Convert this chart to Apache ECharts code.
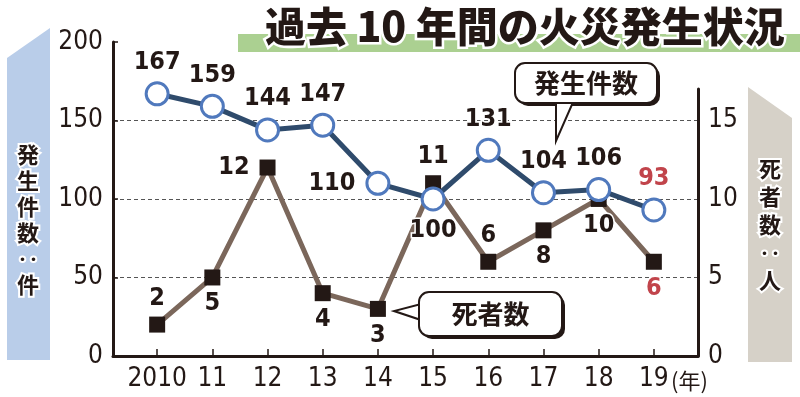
<!DOCTYPE html>
<html>
<head>
<meta charset="utf-8">
<style>
  html, body { margin: 0; padding: 0; background: #fff; }
  #chart { width: 800px; height: 397px; }
</style>
<script src="https://cdn.jsdelivr.net/npm/echarts@6/dist/echarts.min.js"></script>
</head>
<body>
<div id="chart"></div>
<script>
// 年
const years = [2010, 2011, 2012, 2013, 2014, 2015, 2016, 2017, 2018, 2019]
const yearLabels = ['2010', '11', '12', '13', '14', '15', '16', '17', '18', '19']
// 発生件数（件）
const fires = [167, 159, 144, 147, 110, 100, 131, 104, 106, 93]
// 死者数（人）
const deaths = [2, 5, 12, 4, 3, 11, 6, 8, 10, 6]

// ラベル位置
const firesLabelPos = ['top', 'top', 'top', 'top', 'left', 'bottom', 'top', 'top', 'top', 'top']
const deathsLabelPos = ['top', 'bottom', 'left', 'bottom', 'bottom', 'top', 'top', 'bottom', 'bottom', 'bottom']

const INK = '#231815'
const RED = '#c1444b'
const numFont = '"DejaVu Sans", sans-serif'
const jpFont = '"Noto Sans CJK JP", sans-serif'

const chart = echarts.init(document.getElementById('chart'))

function labelStyle(pos, last) {
  return {
    show: true,
    position: pos,
    distance: pos === 'left' ? 10 : 6,
    color: last ? RED : INK,
    fontFamily: numFont,
    fontWeight: 'bold condensed',
    fontSize: 25,
    textBorderColor: '#fff',
    textBorderWidth: 3
  }
}

const fireData = fires.map((v, i) => ({
  value: [years[i], v],
  label: labelStyle(firesLabelPos[i], i === fires.length - 1)
}))
const deathData = deaths.map((v, i) => ({
  value: [years[i], v],
  label: labelStyle(deathsLabelPos[i], i === deaths.length - 1)
}))

// 吹き出し
function bubble(x, y, w, h, text, pointer) {
  return [
    { type: 'rect', shape: { x: x + 3, y: y + 3, width: w, height: h, r: 10 }, style: { fill: INK }, z: 100 },
    { type: 'polygon', shape: { points: pointer }, style: { fill: '#fff', stroke: INK, lineWidth: 2 }, z: 101 },
    { type: 'rect', shape: { x: x, y: y, width: w, height: h, r: 10 }, style: { fill: '#fff', stroke: INK, lineWidth: 2 }, z: 102 },
    {
      type: 'text', x: x + w / 2, y: y + h / 2, z: 103,
      style: { text: text, fill: INK, font: 'bold 26px ' + jpFont, align: 'center', verticalAlign: 'middle' }
    }
  ]
}

chart.setOption({
  animation: false,
  grid: [
    { left: 113, right: 102, top: 42, bottom: 41 },
    { left: 113, right: 102, top: 89, bottom: 41 }
  ],
  xAxis: [
    {
      type: 'value',
      gridIndex: 0,
      min: 2009.2,
      max: 2019.8,
      axisLine: { lineStyle: { color: INK, width: 3 } },
      axisTick: { show: true, inside: true, length: 7, lineStyle: { color: INK, width: 1.5 }, customValues: years },
      axisLabel: {
        customValues: years,
        margin: 10,
        color: INK,
        fontFamily: numFont,
        fontWeight: 'condensed',
        fontSize: 26,
        formatter: v => yearLabels[years.indexOf(Math.round(v))]
      },
      splitLine: { show: false }
    },
    {
      type: 'value',
      gridIndex: 1,
      min: 2009.2,
      max: 2019.8,
      show: false
    }
  ],
  yAxis: [
    {
      type: 'value',
      gridIndex: 0,
      min: 0,
      max: 200,
      interval: 50,
      axisLine: { show: true, lineStyle: { color: INK, width: 3 } },
      axisTick: { show: true, inside: true, length: 5, lineStyle: { color: INK, width: 1.5 } },
      axisLabel: { margin: 10, color: INK, fontFamily: numFont, fontWeight: 'condensed', fontSize: 26 },
      splitLine: {
        show: true,
        showMaxLine: false,
        showMinLine: false,
        lineStyle: { color: '#555', width: 1, type: [4, 3] }
      }
    },
    {
      type: 'value',
      gridIndex: 1,
      position: 'right',
      min: 0,
      max: 17,
      interval: 5,
      axisLine: { show: true, lineStyle: { color: INK, width: 3 } },
      axisTick: { show: false },
      axisLabel: { margin: 10, color: INK, fontFamily: numFont, fontWeight: 'condensed', fontSize: 26, showMaxLabel: false },
      splitLine: { show: false }
    }
  ],
  series: [
    {
      name: '死者数',
      type: 'line',
      xAxisIndex: 1,
      yAxisIndex: 1,
      data: deathData,
      symbol: 'rect',
      symbolSize: 16,
      lineStyle: { color: '#7b675b', width: 5 },
      itemStyle: { color: INK, borderWidth: 0 },
      z: 3
    },
    {
      name: '発生件数',
      type: 'line',
      xAxisIndex: 0,
      yAxisIndex: 0,
      data: fireData,
      symbol: 'circle',
      symbolSize: 22,
      lineStyle: { color: '#2f4b6c', width: 5 },
      itemStyle: { color: '#fff', borderColor: '#5079bd', borderWidth: 3 },
      z: 4
    }
  ],
  graphic: [
    // タイトル
    { type: 'rect', shape: { x: 238, y: 34, width: 562, height: 18 }, style: { fill: '#abd091' }, z: 50 },
    {
      type: 'text', x: 265, y: 26, z: 51,
      style: {
        text: '過去 10 年間の火災発生状況',
        fill: INK,
        font: '900 41px ' + jpFont,
        verticalAlign: 'middle',
        stroke: '#fff',
        lineWidth: 5
      }
    },
    // 左軸タイトル
    { type: 'polygon', shape: { points: [[7, 58], [50, 28], [50, 360], [7, 360]] }, style: { fill: '#b9cde9' }, z: 50 },
    {
      type: 'text', x: 28, y: 220, z: 51,
      style: {
        text: '発\n生\n件\n数\n‥\n件',
        fill: INK,
        font: 'bold 22px ' + jpFont,
        lineHeight: 26,
        align: 'center',
        verticalAlign: 'middle',
        stroke: '#fff',
        lineWidth: 4
      }
    },
    // 右軸タイトル
    { type: 'polygon', shape: { points: [[748, 87], [792, 118], [792, 362], [748, 362]] }, style: { fill: '#d6d1c8' }, z: 50 },
    {
      type: 'text', x: 770, y: 225, z: 51,
      style: {
        text: '死\n者\n数\n‥\n人',
        fill: INK,
        font: 'bold 22px ' + jpFont,
        lineHeight: 28,
        align: 'center',
        verticalAlign: 'middle',
        stroke: '#fff',
        lineWidth: 4
      }
    },
    // (年)
    {
      type: 'text', x: 671, y: 381, z: 51,
      style: { text: '(年)', fill: INK, font: '22px ' + jpFont, verticalAlign: 'middle' }
    },
    ...bubble(515, 63, 142, 40, '発生件数', [[556, 100], [574, 100], [556, 141]]),
    ...bubble(419, 292, 143, 44, '死者数', [[421, 304], [421, 320], [394, 311]])
  ]
})
</script>
</body>
</html>
